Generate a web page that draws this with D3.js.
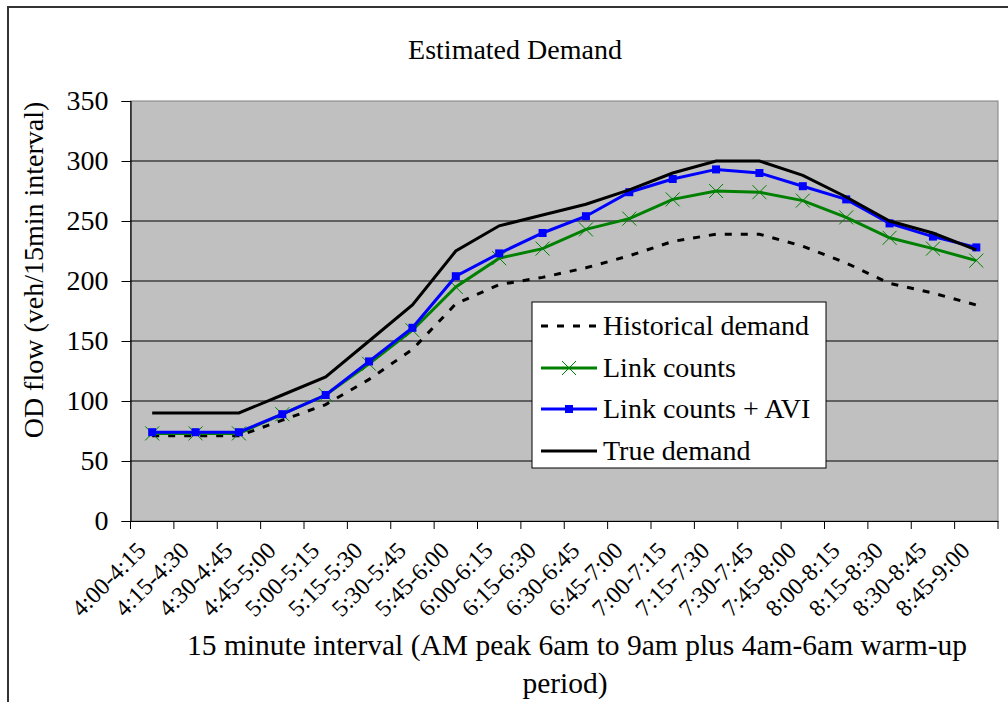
<!DOCTYPE html>
<html>
<head>
<meta charset="utf-8">
<script src="https://cdn.jsdelivr.net/npm/d3@7"></script>
<style>
  html, body { margin: 0; padding: 0; background: #fff; }
  svg { display: block; }
  text { font-family: "Liberation Serif", "Times New Roman", serif; fill: #000; }
</style>
</head>
<body>
<svg id="chart" width="1008" height="702"></svg>
<script>
const categories = ["4:00-4:15","4:15-4:30","4:30-4:45","4:45-5:00","5:00-5:15","5:15-5:30","5:30-5:45","5:45-6:00","6:00-6:15","6:15-6:30","6:30-6:45","6:45-7:00","7:00-7:15","7:15-7:30","7:30-7:45","7:45-8:00","8:00-8:15","8:15-8:30","8:30-8:45","8:45-9:00"];
const historicalDemand = [71,71,71,84,97,118,143,181,197,203,211,221,233,239,239,229,215,198,190,180];
const linkCounts = [73,73,73,89,105,131,159,195,219,227,243,252,268,275,274,267,253,236,227,217];
const linkCountsAVI = [74,74,74,89,105,133,161,204,223,240,254,274,285,293,290,279,268,248,237,228];
const trueDemand = [90,90,90,105,120,150,180,225,246,255,264,276,290,300,300,288,270,250,240,226];
const yTicks = [0,50,100,150,200,250,300,350];
const seriesNames = ["Historical demand","Link counts","Link counts + AVI","True demand"];

const svg = d3.select("#chart");
const plot = {left: 130.5, right: 998, top: 101, bottom: 521};

// outer chart border
svg.append("rect").attr("x", 8).attr("y", 7).attr("width", 1020).attr("height", 720)
  .attr("fill", "#fff").attr("stroke", "#333").attr("stroke-width", 2);

const x = d3.scaleBand().domain(categories).range([plot.left, plot.right]).padding(0);
const y = d3.scaleLinear().domain([0, 350]).range([plot.bottom, plot.top]);

// plot area
svg.append("rect").attr("x", plot.left).attr("y", plot.top)
  .attr("width", plot.right - plot.left).attr("height", plot.bottom - plot.top)
  .attr("fill", "#c0c0c0").attr("stroke", "#808080").attr("stroke-width", 1);

// gridlines
svg.append("g").selectAll("line").data(yTicks.filter(d => d > 0 && d < 350)).join("line")
  .attr("x1", plot.left).attr("x2", plot.right)
  .attr("y1", d => y(d)).attr("y2", d => y(d))
  .attr("stroke", "#000").attr("stroke-width", 1);

// y axis
const yAxis = d3.axisLeft(y).tickValues(yTicks).tickSize(9).tickPadding(13).tickFormat(d3.format("d"));
const gy = svg.append("g").attr("transform", `translate(${plot.left},0)`).call(yAxis);
gy.select(".domain").attr("stroke", "#000").attr("stroke-width", 1.2);
gy.selectAll(".tick line").attr("stroke", "#000");
gy.selectAll(".tick text").attr("font-size", 28).attr("font-family", "Liberation Serif").attr("fill", "#000");

// x axis
const xAxis = d3.axisBottom(x).tickSize(0).tickFormat(d => d);
const gx = svg.append("g").attr("transform", `translate(0,${plot.bottom})`).call(xAxis);
gx.select(".domain").attr("stroke", "#000").attr("stroke-width", 1.2);
// tick marks at band boundaries
const boundaries = categories.map(c => x(c)).concat([x(categories[categories.length-1]) + x.bandwidth()]);
gx.append("g").selectAll("line").data(boundaries).join("line")
  .attr("x1", d => d).attr("x2", d => d).attr("y1", 0).attr("y2", 8)
  .attr("stroke", "#000").attr("stroke-width", 1);
gx.selectAll(".tick text")
  .attr("font-size", 24).attr("font-family", "Liberation Serif").attr("fill", "#000")
  .attr("text-anchor", "end")
  .attr("dy", 0).attr("y", 0)
  .attr("transform", "translate(-5,31) rotate(-45)");

// lines
const line = d3.line().x((d, i) => x(categories[i]) + x.bandwidth() / 2).y(d => y(d));
const lineG = svg.append("g");
lineG.append("path").datum(historicalDemand).attr("d", line)
  .attr("fill", "none").attr("stroke", "#000").attr("stroke-width", 3).attr("stroke-dasharray", "7,9");
lineG.append("path").datum(linkCounts).attr("d", line)
  .attr("fill", "none").attr("stroke", "#008000").attr("stroke-width", 3);
lineG.append("g").selectAll("path").data(linkCounts).join("path")
  .attr("transform", (d, i) => `translate(${x(categories[i]) + x.bandwidth()/2},${y(d)})`)
  .attr("d", "M-7,-7L7,7M-7,7L7,-7").attr("stroke", "#008000").attr("stroke-width", 1).attr("fill", "none");
lineG.append("path").datum(linkCountsAVI).attr("d", line)
  .attr("fill", "none").attr("stroke", "#0000ff").attr("stroke-width", 3);
lineG.append("g").selectAll("rect").data(linkCountsAVI).join("rect")
  .attr("x", (d, i) => x(categories[i]) + x.bandwidth()/2 - 4)
  .attr("y", d => y(d) - 4).attr("width", 8).attr("height", 8).attr("fill", "#0000ff");
lineG.append("path").datum(trueDemand).attr("d", line)
  .attr("fill", "none").attr("stroke", "#000").attr("stroke-width", 3);

// legend
const leg = svg.append("g");
leg.append("rect").attr("x", 532).attr("y", 302).attr("width", 294).attr("height", 166)
  .attr("fill", "#fff").attr("stroke", "#000").attr("stroke-width", 1);
const rowY = [326, 368, 409, 451];
seriesNames.forEach((name, i) => {
  const g = leg.append("g").attr("transform", `translate(0,${rowY[i]})`);
  const l = g.append("line").attr("x1", 541).attr("x2", 597).attr("y1", 0).attr("y2", 0)
    .attr("stroke", ["#000","#008000","#0000ff","#000"][i]).attr("stroke-width", 3);
  if (i === 0) l.attr("stroke-dasharray", "7,9");
  if (i === 1) g.append("path").attr("d", "M562,-7L576,7M562,7L576,-7").attr("stroke", "#008000").attr("stroke-width", 1);
  if (i === 2) g.append("rect").attr("x", 565).attr("y", -4).attr("width", 8).attr("height", 8).attr("fill", "#0000ff");
  g.append("text").attr("x", 603).attr("y", 9).attr("font-size", 28).text(name);
});

// titles
svg.append("text").attr("x", 515).attr("y", 59).attr("text-anchor", "middle").attr("font-size", 28).text("Estimated Demand");
svg.append("text").attr("transform", "translate(43,270) rotate(-90)").attr("text-anchor", "middle")
  .attr("font-size", 28).text("OD flow (veh/15min interval)");
svg.append("text").attr("x", 577).attr("y", 655).attr("text-anchor", "middle").attr("font-size", 29.5)
  .text("15 minute interval (AM peak 6am to 9am plus 4am-6am warm-up");
svg.append("text").attr("x", 565).attr("y", 693).attr("text-anchor", "middle").attr("font-size", 29.5)
  .text("period)");
</script>
</body>
</html>
